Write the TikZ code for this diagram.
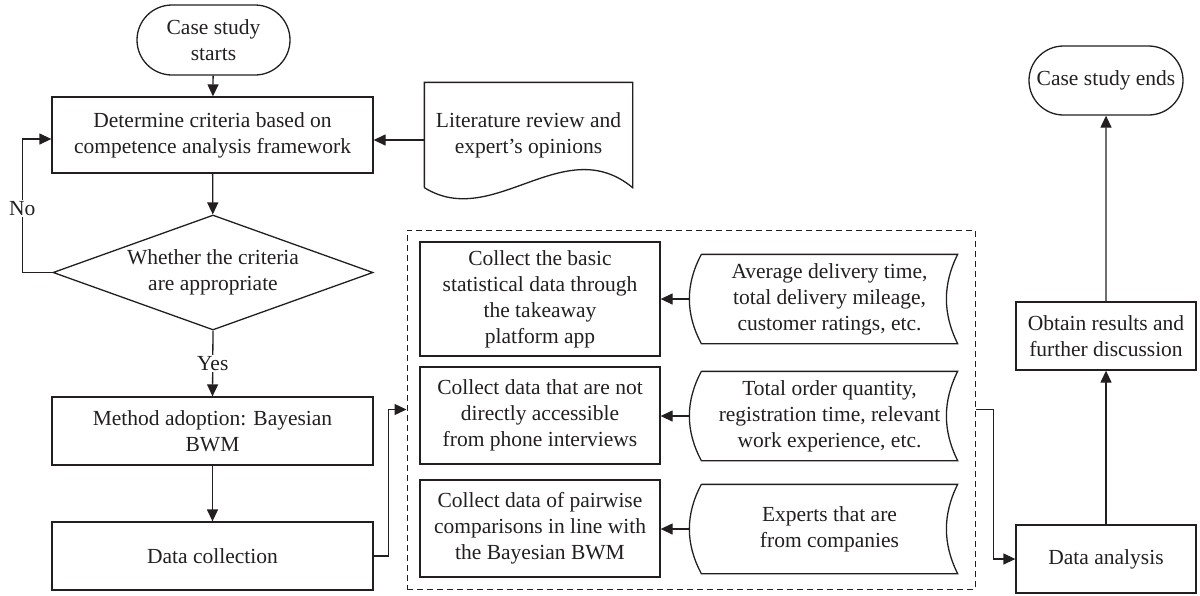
\documentclass[tikz,border=0pt]{standalone}
\usepackage{fontspec}
\setmainfont{Liberation Serif}
\usetikzlibrary{shapes.geometric,shapes.misc,arrows.meta}
\definecolor{ink}{RGB}{35,31,32}
\newcommand\myfs{\fontsize{21.5}{26}\selectfont}
\begin{document}
\begin{tikzpicture}[x=1pt,y=-1pt, line width=1.3pt,
 every node/.style={font=\myfs, text=ink},
 box/.style={draw=ink, rectangle, align=center, inner sep=0pt},
 term/.style={draw=ink, rounded rectangle, align=center, inner sep=0pt},
 plain/.style={align=center, inner sep=0pt},
 arr/.style={draw=ink, -{Triangle[length=12pt,width=11pt]}},
 lab/.style={fill=white, inner sep=1.5pt}
 ]
\useasboundingbox (0,0) rectangle (1200,595);
% left column
\node[term, minimum width=153pt, minimum height=70pt] (start) at (213.5,40) {Case study\\starts};
\node[box, minimum width=321pt, minimum height=76pt] (crit) at (212.5,135) {Determine criteria based on\\competence analysis framework};
\node[diamond, draw=ink, aspect=2.78, inner sep=0pt, minimum width=320pt, minimum height=115pt] (dec) at (213,272.5) {};
\node[plain] (dect) at (dec) {Whether the criteria\\are appropriate};
\node[box, minimum width=321pt, minimum height=68pt] (meth) at (212.5,431) {Method adoption: Bayesian\\BWM};
\node[box, minimum width=321pt, minimum height=68pt] (coll) at (212.5,556) {Data collection};
% document
\node[plain, minimum width=207pt, minimum height=104pt] (lit) at (528.5,135) {Literature review and\\expert’s opinions};
\draw[ink] (lit.south west) -- (lit.north west) -- (lit.north east) -- (lit.south east)
  .. controls +(-69,-57) and +(69,43) .. (lit.south west);
% dashed group
\node[draw=ink, line width=1pt, dash pattern=on 6pt off 4pt, minimum width=568pt, minimum height=359pt, inner sep=0pt] (dbox) at (691,409.5) {};
\node[box, minimum width=240pt, minimum height=114pt] (b1) at (540,299) {Collect the basic\\statistical data through\\the takeaway\\platform app};
\node[box, minimum width=240pt, minimum height=97pt] (b2) at (540,415.5) {Collect data that are not\\directly accessible\\from phone interviews};
\node[box, minimum width=240pt, minimum height=97pt] (b3) at (540,528.5) {Collect data of pairwise\\comparisons in line with\\the Bayesian BWM};
\node[plain, minimum width=255pt, minimum height=88pt] (s1) at (829.5,299) {Average delivery time,\\total delivery mileage,\\customer ratings, etc.};
\node[plain, minimum width=255pt, minimum height=88pt] (s2) at (829.5,416) {Total order quantity,\\registration time, relevant\\work experience, etc.};
\node[plain, minimum width=255pt, minimum height=88pt] (s3) at (829.5,529) {Experts that are\\from companies};
\foreach \i in {1,2,3}{
  \draw[ink] (s\i.north west) -- (s\i.north east) .. controls +(-15,30) and +(-15,-30) .. (s\i.south east)
    -- (s\i.south west) .. controls +(-16,-30) and +(-16,30) .. (s\i.north west);
  \draw[arr] ([xshift=-12pt]s\i.west) -- (b\i.east |- s\i.west);
}
% right column
\node[box, minimum width=180pt, minimum height=68pt] (da) at (1106,559) {Data analysis};
\node[box, minimum width=180pt, minimum height=68pt] (ob) at (1106,336) {Obtain results and\\further discussion};
\node[term, minimum width=154pt, minimum height=69pt] (ends) at (1106,80.5) {Case study ends};
% connectors
\draw[arr] (start) -- (crit);
\draw[arr] (crit) -- (dec);
\draw[arr] (dec.west) -- ++(-30,0) |- node[lab, pos=0.24] (nolab) {No} ([yshift=-4pt]crit.west);
\draw[arr] (dec.south) -- node[lab] (yeslab) {Yes} (meth.north);
\draw[arr] (meth) -- (coll);
\draw[arr] ([yshift=-5pt]lit.west) -- ([yshift=-5pt]crit.east);
\draw[arr] (coll.east) -- ++(15,0) |- (dbox.west);
\draw[arr] (dbox.east) -- ++(18,0) |- (da.west);
\draw[arr] (da) -- (ob);
\draw[arr] (ob) -- (ends);
\end{tikzpicture}
\end{document}
